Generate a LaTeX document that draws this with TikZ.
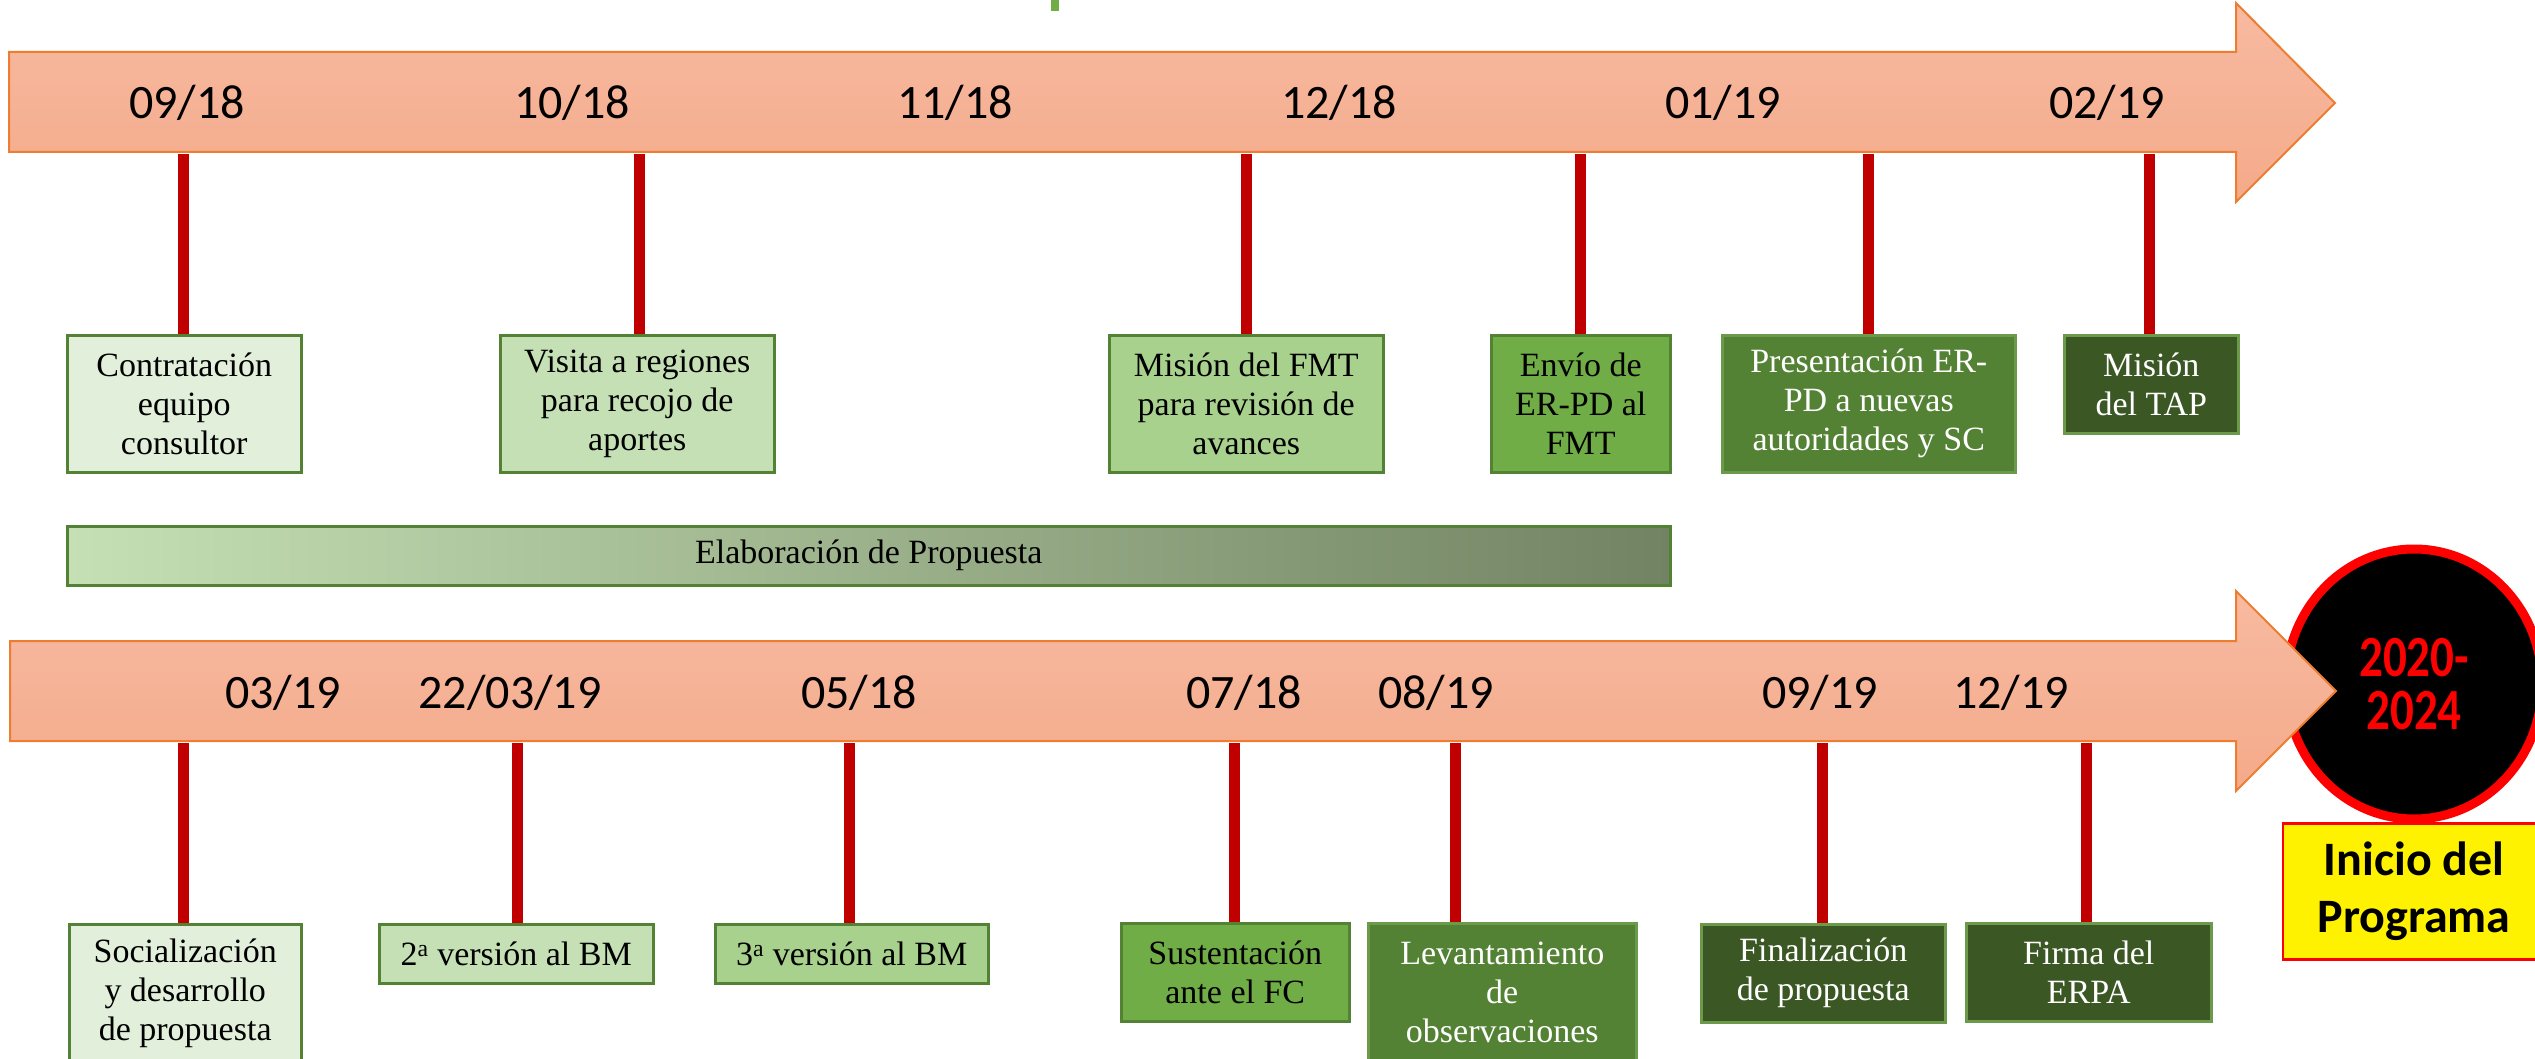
\documentclass[tikz,border=0pt]{standalone}
\usepackage{graphicx}
\usepackage{fontspec}
\setmainfont{Liberation Serif}
\newfontfamily\datefont{Carlito}
\usetikzlibrary{shapes.geometric}
\definecolor{arrowtop}{HTML}{F7BAA1}
\definecolor{arrowbot}{HTML}{F4AA8A}
\definecolor{arrowedge}{HTML}{ED7D31}
\definecolor{stemred}{HTML}{C00000}
\definecolor{gA}{HTML}{E2EFDA}
\definecolor{gB}{HTML}{C5E0B4}
\definecolor{gC}{HTML}{A9D18E}
\definecolor{gD}{HTML}{70AD47}
\definecolor{gE}{HTML}{548235}
\definecolor{gF}{HTML}{3B5724}
\definecolor{barright}{HTML}{728363}
\definecolor{boxedge}{HTML}{548235}
\definecolor{darkedge}{HTML}{6A9A4A}
\newcommand{\tallnum}[1]{\scalebox{1}[1.24]{#1}}
\begin{document}
\begin{tikzpicture}[x=1pt,y=-1pt,
  timeline/.style={draw=arrowedge, line width=2pt, top color=arrowtop, bottom color=arrowbot},
  stem/.style={draw=stemred, line width=11pt},
  datelbl/.style={anchor=base, inner sep=0pt, font=\datefont\fontsize{48}{48}\selectfont},
  evbox/.style={draw=boxedge, line width=2.5pt, anchor=north west, align=center, inner sep=0pt,
    font=\fontsize{34}{39}\selectfont, text=black},
  darkbox/.style={evbox, draw=darkedge, text=white},
]
\useasboundingbox (0,0) rectangle (2535,1059);

% small green mark at top
\fill[gD] (1051,0) rectangle (1059,11);

% ---------- top timeline ----------
\path[timeline] (9,52) -- (2236,52) -- (2236,3) -- (2335,103) -- (2236,202) -- (2236,152) -- (9,152) -- cycle;

\node[datelbl] (d1) at (187,119) {09/18};
\node[datelbl] (d2) at (572,119) {10/18};
\node[datelbl] (d3) at (955,119) {11/18};
\node[datelbl] (d4) at (1339,119) {12/18};
\node[datelbl] (d5) at (1723,119) {01/19};
\node[datelbl] (d6) at (2107,119) {02/19};

\node[evbox, fill=gA, minimum width=234, minimum height=137] (b1) at (66,334) {Contratación\\equipo\\consultor};
\node[evbox, fill=gB, minimum width=274, minimum height=137] (b2) at (499,334) {Visita a regiones\\para recojo de\\aportes};
\node[evbox, fill=gC, minimum width=274, minimum height=137] (b3) at (1108,334) {Misión del FMT\\para revisión de\\avances};
\node[evbox, fill=gD, minimum width=179, minimum height=137] (b4) at (1490,334) {Envío de\\ER-PD al\\FMT};
\node[darkbox, fill=gE, minimum width=293, minimum height=137] (b5) at (1721,334) {Presentación ER-\\PD a nuevas\\autoridades y SC};
\node[darkbox, fill=gF, minimum width=174, minimum height=98] (b6) at (2063,334) {Misión\\del TAP};

\coordinate (t1) at (183,154);
\coordinate (t2) at (639,154);
\coordinate (t3) at (1246,154);
\coordinate (t4) at (1580,154);
\coordinate (t5) at (1868,154);
\coordinate (t6) at (2149,154);
\draw[stem] (t1) -- (t1 |- b1.north);
\draw[stem] (t2) -- (t2 |- b2.north);
\draw[stem] (t3) -- (t3 |- b3.north);
\draw[stem] (t4) -- (t4 |- b4.north);
\draw[stem] (t5) -- (t5 |- b5.north);
\draw[stem] (t6) -- (t6 |- b6.north);

% ---------- proposal bar ----------
\node[draw=boxedge, line width=2.5pt, left color=gB, right color=barright, anchor=north west,
  minimum width=1603, minimum height=59, inner sep=0pt, font=\fontsize{34}{39}\selectfont] (elab) at (66,525) {Elaboración de Propuesta};

% ---------- goal ----------
\node[ellipse, draw=red, line width=9pt, fill=black, minimum width=256, minimum height=270, inner sep=0pt,
  align=center, text=red, font=\datefont\bfseries\fontsize{47}{53}\selectfont] (goal) at (2414,684) {\tallnum{2020-}\\\tallnum{2024}};
\node[draw=red, line width=2.5pt, fill=yellow, anchor=north, minimum width=262, minimum height=136, inner sep=0pt,
  align=center, font=\datefont\bfseries\fontsize{48}{57}\selectfont] (start) at (2414,822) {Inicio del\\Programa};

% ---------- bottom timeline ----------
\path[timeline] (10,641) -- (2236,641) -- (2236,591) -- (2336,691) -- (2236,791) -- (2236,741) -- (10,741) -- cycle;

\node[datelbl] (e1) at (283,708) {03/19};
\node[datelbl] (e2) at (510,708) {22/03/19};
\node[datelbl] (e3) at (859,708) {05/18};
\node[datelbl] (e4) at (1244,708) {07/18};
\node[datelbl] (e5) at (1436,708) {08/19};
\node[datelbl] (e6) at (1820,708) {09/19};
\node[datelbl] (e7) at (2011,708) {12/19};

\node[evbox, fill=gA, minimum width=232, minimum height=138] (c1) at (68,923) {Socialización\\y desarrollo\\de propuesta};
\node[evbox, fill=gB, minimum width=274, minimum height=59] (c2) at (378,923) {2\textsuperscript{a} versión al BM};
\node[evbox, fill=gC, minimum width=273, minimum height=59] (c3) at (714,923) {3\textsuperscript{a} versión al BM};
\node[evbox, fill=gD, minimum width=228, minimum height=98] (c4) at (1120,922) {Sustentación\\ante el FC};
\node[darkbox, fill=gE, minimum width=268, minimum height=139] (c5) at (1367,922) {Levantamiento\\de\\observaciones};
\node[darkbox, fill=gF, minimum width=244, minimum height=98] (c6) at (1700,923) {Finalización\\de propuesta};
\node[darkbox, fill=gF, minimum width=245, minimum height=98] (c7) at (1965,922) {Firma del\\ERPA};

\coordinate (u1) at (183,743);
\coordinate (u2) at (517,743);
\coordinate (u3) at (849,743);
\coordinate (u4) at (1234,743);
\coordinate (u5) at (1455,743);
\coordinate (u6) at (1822,743);
\coordinate (u7) at (2086,743);
\draw[stem] (u1) -- (u1 |- c1.north);
\draw[stem] (u2) -- (u2 |- c2.north);
\draw[stem] (u3) -- (u3 |- c3.north);
\draw[stem] (u4) -- (u4 |- c4.north);
\draw[stem] (u5) -- (u5 |- c5.north);
\draw[stem] (u6) -- (u6 |- c6.north);
\draw[stem] (u7) -- (u7 |- c7.north);
\end{tikzpicture}
\end{document}
